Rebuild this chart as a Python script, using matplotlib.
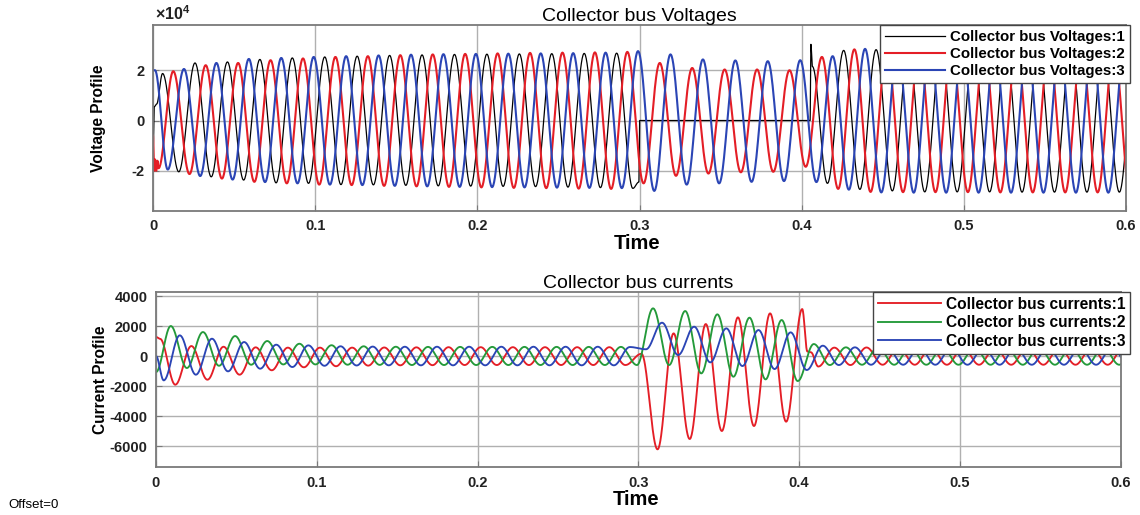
import numpy as np
import matplotlib
matplotlib.use("Agg")
import matplotlib.pyplot as plt
from matplotlib.ticker import FuncFormatter

plt.rcParams['font.family'] = ['Liberation Sans', 'DejaVu Sans']
plt.rcParams['axes.unicode_minus'] = False
plt.rcParams['mathtext.fontset'] = 'custom'
plt.rcParams['mathtext.rm'] = 'Liberation Sans:bold'
plt.rcParams['mathtext.bf'] = 'Liberation Sans:bold'
plt.rcParams['mathtext.default'] = 'bf'

nan = np.nan

# ---------------- data ----------------
# Extrema are spaced half a 50 Hz period (0.01 s) apart, starting at *_T0.
# Voltages in units of 1e4 V
V1_T0 = 0.0059
V1_EXT = [1.87, -2.04, 2.29, -2.24, 2.33, -2.37, 2.43, -2.48, 2.49, -2.50,
          2.53, -2.55, 2.56, -2.56, 2.59, -2.58, 2.61, -2.60, 2.63, -2.61,
          2.64, -2.62, 2.65, -2.63, 2.66, -2.65, 2.67, -2.67, 2.68, -2.70,
          nan, nan, nan, nan, nan, nan, nan, nan, nan, nan, nan,
          -2.50, 2.79, -2.74, 2.82, -2.80, 2.85, -2.84, 2.85, -2.84,
          2.86, -2.84, 2.86, -2.85, 2.86, -2.85, 2.86, -2.85, 2.86, -2.85, 2.86]
V1_XT = [0.0, 0.0008, 0.0022, 0.2996, 0.3001, 0.4052, 0.4057, 0.4066]
V1_XV = [-1.4, 0.55, 0.65, -2.45, 0.0, 0.0, 3.03, 2.15]

V2_T0 = 0.0125
V2_EXT = [1.96, -2.13, 2.20, -2.31, 2.29, -2.44, 2.40, -2.50, 2.47, -2.55,
          2.53, -2.57, 2.56, -2.60, 2.60, -2.62, 2.63, -2.64, 2.65, -2.66,
          2.67, -2.68, 2.69, -2.69, 2.70, -2.71, 2.71, -2.72, 2.73, -2.50,
          2.29, -2.20, 2.09, -2.11, 2.03, -2.06, 2.03, -2.04, 2.00, -1.84,
          2.53, -2.72, 2.83, -2.84, 2.85, -2.85, 2.85, -2.85, 2.86, -2.85,
          2.86, -2.86, 2.86, -2.86, 2.86, -2.86, 2.86, -2.86, 2.86, -2.86, 2.86]
V2_XT = [0.0, 0.0007, 0.0013, 0.0020, 0.0027, 0.0034]
V2_XV = [-0.6, -2.0, -1.55, -2.0, -1.6, -1.9]

V3_T0 = 0.0091
V3_EXT = [-1.95, 2.05, -2.21, 2.29, -2.35, 2.45, -2.45, 2.49, -2.50, 2.53,
          -2.55, 2.56, -2.57, 2.59, -2.60, 2.62, -2.62, 2.64, -2.64, 2.65,
          -2.65, 2.66, -2.66, 2.67, -2.67, 2.68, -2.68, 2.70, -2.69, 2.76,
          -2.80, 2.63, -2.55, 2.43, -2.50, 2.39, -2.44, 2.36, -2.41, 2.40,
          -2.45, 2.56, -2.75, 2.85, -2.86, 2.86, -2.87, 2.86, -2.87, 2.87,
          -2.87, 2.87, -2.87, 2.87, -2.87, 2.87, -2.87, 2.87, -2.87, 2.87, -2.87]
V3_XT = [0.0, 0.0012]
V3_XV = [2.0, 2.0]

# Currents in A
I1_T0 = 0.0120
I1_EXT = [-1911, 667, -1578, 620, -1244, 580, -950, 560, -750, 560,
          -680, 560, -640, 570, -620, 580, -610, 590, -600, 590,
          -600, 590, -600, 590, -600, 590, -600, 590, -600, 150,
          -6222, 1511, -5533, 2133, -5000, 2578, -4667, 2844, -4378, 3133,
          -700, 560, -600, 570, -580, 570, -580, 570, -580, 570,
          -580, 570, -580, 570, -580, 570, -580, 570, -580, 570]
I1_XT = [0.0, 0.0025, 0.4052, 0.4074]
I1_XV = [1270, 1150, 300, 250]

I2_T0 = 0.0092
I2_EXT = [2000, -800, 1600, -650, 1333, -580, 1000, -560, 820, -560,
          720, -580, 650, -590, 620, -600, 610, -600, 610, -600,
          610, -600, 610, -600, 610, -600, 610, -600, 610, -600,
          3178, -600, 3000, -1156, 2778, -1378, 2556, -1556, 2400, -1667,
          800, -600, 580, -580, 580, -580, 580, -580, 580, -580,
          580, -580, 580, -580, 580, -580, 580, -580, 580, -580, 580]
I2_XT = [0.0]
I2_XV = [-1070]

I3_T0 = 0.0048
I3_EXT = [-1622, 1378, -1244, 1156, -1022, 933, -844, 756, -733, 711,
          -650, 650, -630, 630, -620, 620, -620, 620, -620, 620,
          -620, 620, -620, 620, -620, 620, -620, 620, -620, 600,
          450, 2222, 67, 1956, -422, 1844, -667, 1733, -867, 1578,
          -933, 689, -600, 580, -580, 580, -580, 580, -580, 580,
          -580, 580, -580, 580, -580, 580, -580, 580, -580, 580, -580]
I3_XT = [0.0]
I3_XV = [0]

V_LABELS = ['Collector bus Voltages:1', 'Collector bus Voltages:2', 'Collector bus Voltages:3']
I_LABELS = ['Collector bus currents:1', 'Collector bus currents:2', 'Collector bus currents:3']
X_TICKS = [0, 0.1, 0.2, 0.3, 0.4, 0.5, 0.6]
V_TICKS = [-2e4, 0, 2e4]
I_TICKS = [-6000, -4000, -2000, 0, 2000, 4000]
V_SCALE = 1e4


def trace(t0, ext, xt, xv, scale=1.0, n=40):
    kt = [t0 + 0.01 * k for k, v in enumerate(ext) if not np.isnan(v)]
    kv = [v for v in ext if not np.isnan(v)]
    kt = np.array(kt + list(xt))
    kv = np.array(kv + list(xv)) * scale
    o = np.argsort(kt, kind='stable')
    kt, kv = kt[o], kv[o]
    s = np.linspace(0, 1, n, endpoint=False)
    w = (1 - np.cos(np.pi * s)) / 2
    ts, vs = [], []
    for i in range(len(kt) - 1):
        ts.append(kt[i] + (kt[i + 1] - kt[i]) * s)
        vs.append(kv[i] + (kv[i + 1] - kv[i]) * w)
    ts.append([kt[-1]])
    vs.append([kv[-1]])
    return np.concatenate(ts), np.concatenate(vs)


RED = '#e41e26'
BLUE = '#2b45b5'
GREEN = '#249a3a'
GRID = '#b0b0b0'
FRAME = '#7a7a7a'

fig = plt.figure(figsize=(11.4, 5.15), dpi=100)
ax1 = fig.add_axes([153 / 1140, 1 - 211 / 515, (1126 - 153) / 1140, (211 - 25) / 515])
ax2 = fig.add_axes([156 / 1140, 1 - 467.3 / 515, (1120.5 - 156) / 1140, (467.3 - 291.7) / 515])

for t0, ext, xt, xv, c, lw, lab in [
        (V1_T0, V1_EXT, V1_XT, V1_XV, 'black', 0.9, V_LABELS[0]),
        (V2_T0, V2_EXT, V2_XT, V2_XV, RED, 1.5, V_LABELS[1]),
        (V3_T0, V3_EXT, V3_XT, V3_XV, BLUE, 1.5, V_LABELS[2])]:
    t, v = trace(t0, ext, xt, xv, scale=V_SCALE)
    ax1.plot(t, v, color=c, lw=lw, label=lab)

for t0, ext, xt, xv, c, lab in [
        (I1_T0, I1_EXT, I1_XT, I1_XV, RED, I_LABELS[0]),
        (I2_T0, I2_EXT, I2_XT, I2_XV, GREEN, I_LABELS[1]),
        (I3_T0, I3_EXT, I3_XT, I3_XV, BLUE, I_LABELS[2])]:
    t, v = trace(t0, ext, xt, xv)
    ax2.plot(t, v, color=c, lw=1.35, label=lab)

ax1.set_ylim(-3.6e4, 3.8e4)
ax2.set_ylim(-7420, 4290)
ax1.set_yticks(V_TICKS)
ax2.set_yticks(I_TICKS)
ax1.yaxis.set_major_formatter(FuncFormatter(lambda y, p: '%g' % (y / V_SCALE)))
ax1.text(0.002, 1.012, r'$\times\mathbf{10^{4}}$', transform=ax1.transAxes,
         fontsize=11.5, ha='left', va='bottom', color='#222222')

legend_anchor = {ax1: (1.0 + 4 / 973, 1.0), ax2: (1.0 + 10 / 965, 1.0)}
legend_size = {ax1: 10.8, ax2: 11.2}
for ax, title, ylab in [(ax1, 'Collector bus Voltages', 'Voltage Profile'),
                        (ax2, 'Collector bus currents', 'Current Profile')]:
    ax.set_xlim(0, 0.6)
    ax.set_xticks(X_TICKS)
    ax.xaxis.set_major_formatter(FuncFormatter(lambda x, p: '%g' % x))
    ax.grid(True, color=GRID, lw=1.0)
    ax.set_axisbelow(True)
    for sp in ax.spines.values():
        sp.set_color(FRAME)
        sp.set_linewidth(1.3)
    ax.tick_params(direction='in', length=4, color=FRAME, labelsize=10.5, pad=6,
                   labelcolor='#222222')
    for lbl in ax.get_xticklabels() + ax.get_yticklabels():
        lbl.set_fontweight('bold')
    ax.set_title(title, fontsize=14, pad=3)
    ax.set_xlabel('Time', fontsize=14.5, fontweight='bold')
    ax.set_ylabel(ylab, fontsize=11.2, fontweight='bold')
    leg = ax.legend(loc='upper right', bbox_to_anchor=legend_anchor[ax], borderaxespad=0,
                    fancybox=False, framealpha=1, edgecolor='#444444',
                    prop={'weight': 'bold', 'size': legend_size[ax]}, handlelength=4.0,
                    handletextpad=0.35, labelspacing=0.22, borderpad=0.32)
    leg.get_frame().set_linewidth(1.0)

ax1.xaxis.set_label_coords(0.498, -0.122)
ax2.xaxis.set_label_coords(0.498, -0.128)
ax1.yaxis.set_label_coords(-0.048, 0.5)
ax2.yaxis.set_label_coords(-0.05, 0.5)

fig.text(8 / 1140, 1 - 505 / 515, 'Offset=0', fontsize=9.5, va='center', ha='left')

fig.savefig('out.png', dpi=100)
